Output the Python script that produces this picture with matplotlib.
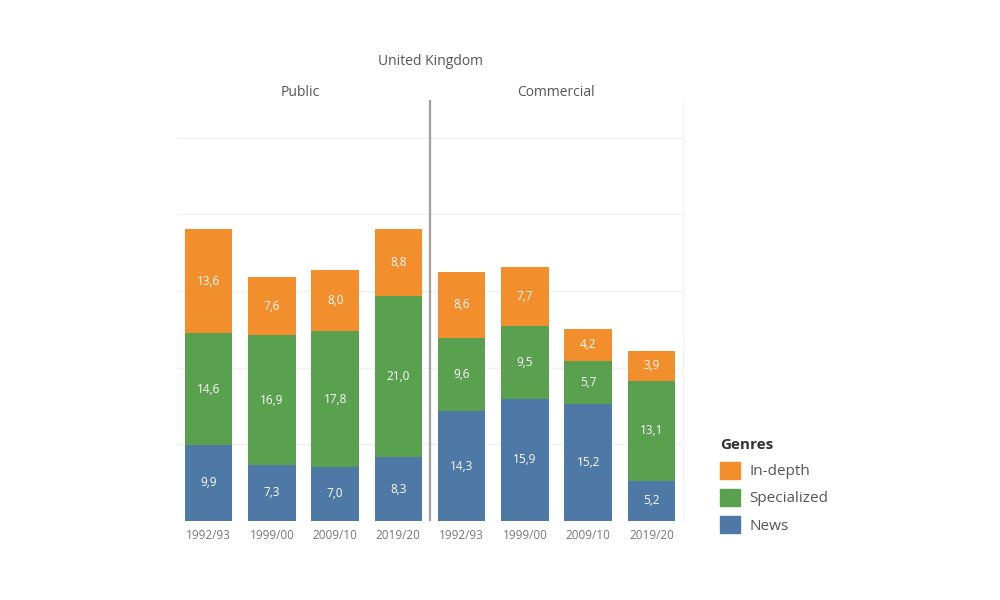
import numpy as np
import matplotlib as mpl
import matplotlib.pyplot as plt
from matplotlib.patches import Patch

mpl.rcParams["font.family"] = ["Open Sans", "DejaVu Sans"]

years = ["1992/93", "1999/00", "2009/10", "2019/20"]
panes = ["Public", "Commercial"]
genres = ["News", "Specialized", "In-depth"]
colors = {"News": "#4e79a7", "Specialized": "#59a14f", "In-depth": "#f28e2b"}

news = [9.9, 7.3, 7.0, 8.3, 14.3, 15.9, 15.2, 5.2]
specialized = [14.6, 16.9, 17.8, 21.0, 9.6, 9.5, 5.7, 13.1]
in_depth = [13.6, 7.6, 8.0, 8.8, 8.6, 7.7, 4.2, 3.9]

values = {"News": news, "Specialized": specialized, "In-depth": in_depth}

fig = plt.figure(figsize=(10, 6), dpi=100)
ax = fig.add_axes([0.177, 0.132, 0.506, 0.702])

x = np.arange(len(news))
bottom = np.zeros(len(news))
for g in genres:
    v = np.array(values[g])
    ax.bar(x, v, bottom=bottom, width=0.75, color=colors[g], zorder=2)
    for xi, b, vi in zip(x, bottom, v):
        ax.text(xi, b + vi / 2, f"{vi:.1f}".replace(".", ","), ha="center", va="center",
                color="white", fontsize=8.5, zorder=3)
    bottom += v

ax.set_xlim(-0.5, 7.5)
ax.set_ylim(0, 55)
ax.set_yticks([10, 20, 30, 40, 50])
ax.yaxis.grid(True, color="#f0f0f0", linewidth=1, zorder=0)
ax.tick_params(axis="y", left=False, labelleft=False)
ax.set_xticks(x)
ax.set_xticklabels(years * 2, color="#777777", fontsize=8.5)
ax.tick_params(axis="x", length=0, pad=6)
for s in ["top", "left", "bottom"]:
    ax.spines[s].set_visible(False)
ax.spines["right"].set_color("#f0f0f0")

ax.axvline(3.5, color="#a0a0a0", linewidth=1.6, zorder=4)

fig.text(0.43, 0.898, "United Kingdom", ha="center", va="center", fontsize=10, color="#555555")
fig.text(0.300, 0.845, panes[0], ha="center", va="center", fontsize=10, color="#555555")
fig.text(0.556, 0.845, panes[1], ha="center", va="center", fontsize=10, color="#555555")

handles = [Patch(color=colors[g]) for g in ["In-depth", "Specialized", "News"]]
leg = fig.legend(handles, ["In-depth", "Specialized", "News"], title="Genres",
                 loc="upper left", bbox_to_anchor=(0.714, 0.28), frameon=False,
                 fontsize=11, title_fontsize=11, handlelength=1.3, handleheight=1.35,
                 handletextpad=0.6, labelspacing=0.62, alignment="left",
                 borderaxespad=0.0)
leg.get_title().set_fontweight("bold")
leg.get_title().set_color("#333333")
for t in leg.get_texts():
    t.set_color("#555555")

fig.savefig("out.png", dpi=100)
